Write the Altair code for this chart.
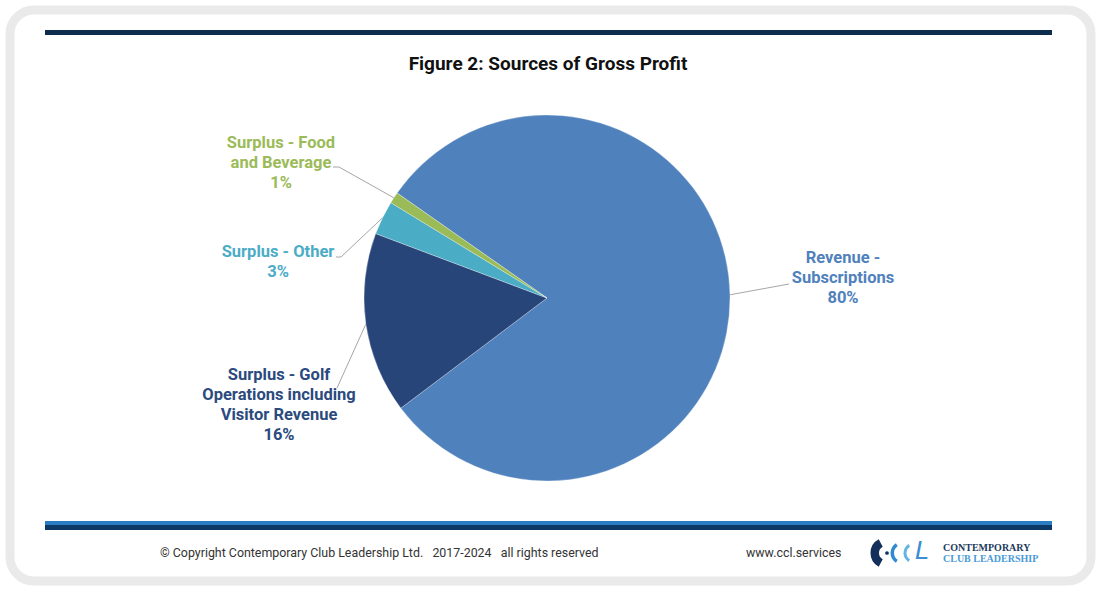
import math
import altair as alt
import pandas as pd

# ---------------- data ----------------
categories = [
    "Revenue - Subscriptions",
    "Surplus - Golf Operations including Visitor Revenue",
    "Surplus - Other",
    "Surplus - Food and Beverage",
]
values = [80, 16, 3, 1]
label_lines = [
    ["Revenue -", "Subscriptions"],
    ["Surplus - Golf", "Operations including", "Visitor Revenue"],
    ["Surplus - Other"],
    ["Surplus - Food", "and Beverage"],
]
title_text = "Figure 2: Sources of Gross Profit"
footer_left = "© Copyright Contemporary Club Leadership Ltd.\u00a0\u00a0\u00a02017-2024\u00a0\u00a0\u00a0all rights reserved"
footer_url = "www.ccl.services"

# ---------------- layout / style ----------------
W, H = 1100, 595
CX, CY, R = 547, 298, 183
START_DEG = 305.0
colors = ["#4F81BD", "#284579", "#4BACC6", "#9BBB59"]
label_colors = ["#4F81BD", "#2B4A7E", "#4BACC6", "#9BBB59"]
label_pos = [(843, 258), (279, 375), (278, 252), (281, 143)]  # centre x, first line y
leader_anchor = [
    [(789, 284)],
    [(337, 388)],
    [(336, 257), (341, 257)],
    [(333, 167), (339, 167)],
]
LINE_GAP = 20
FONT = "Roboto, Liberation Sans, sans-serif"

xs = alt.Scale(domain=[0, W], range=[0, W])
ys = alt.Scale(domain=[0, H], range=[0, H])
color_scale = alt.Scale(domain=categories, range=colors)
label_color_scale = alt.Scale(domain=[c + " " for c in categories], range=label_colors)


def X(f):
    return alt.X(f, type="quantitative", scale=xs, axis=None)


def Y(f):
    return alt.Y(f, type="quantitative", scale=ys, axis=None)


one = pd.DataFrame({"a": [0]})

# ---------------- pie ----------------
pie_df = pd.DataFrame({"category": categories, "value": values, "order": list(range(len(values)))})
start = math.radians(START_DEG)
pie = alt.Chart(pie_df).mark_arc(outerRadius=R, stroke="white", strokeWidth=0.3).encode(
    theta=alt.Theta("value:Q", stack=True, scale=alt.Scale(domain=[0, sum(values)], range=[start, start + 2 * math.pi])),
    color=alt.Color("category:N", scale=color_scale, legend=None),
    order=alt.Order("order:Q"),
    x=alt.value(CX),
    y=alt.value(CY),
)

# ---------------- labels ----------------
rows = []
total = sum(values)
for i, (cat, v) in enumerate(zip(categories, values)):
    lines = label_lines[i] + [f"{v}%"]
    cx, y0 = label_pos[i]
    for j, t in enumerate(lines):
        rows.append({"cat": cat + " ", "text": t, "x": cx, "y": y0 + j * LINE_GAP})
lab_df = pd.DataFrame(rows)
labels = alt.Chart(lab_df).mark_text(font=FONT, fontSize=16.5, fontWeight="bold", align="center", baseline="middle").encode(
    x=X("x"), y=Y("y"), text="text:N",
    color=alt.Color("cat:N", scale=label_color_scale, legend=None),
)

# ---------------- leader lines ----------------
lrows = []
cum = 0
for i, v in enumerate(values):
    mid = START_DEG + 360.0 * (cum + v / 2) / total
    cum += v
    a = math.radians(mid)
    px, py = CX + R * math.sin(a), CY - R * math.cos(a)
    pts = leader_anchor[i] + [(px, py)]
    for k, (x, y) in enumerate(pts):
        lrows.append({"id": i, "k": k, "x": x, "y": y})
lead_df = pd.DataFrame(lrows)
leaders = alt.Chart(lead_df).mark_line(color="#A6A6A6", strokeWidth=1).encode(
    x=X("x"), y=Y("y"), detail="id:N", order="k:Q"
)

# ---------------- frame / decorations ----------------
card = alt.Chart(one).mark_rect(
    fill="white", stroke="#EAEAEA", strokeWidth=9, cornerRadius=24
).encode(x=alt.value(10), x2=alt.value(1091), y=alt.value(10), y2=alt.value(581))

bars_df = pd.DataFrame({
    "x": [45, 45, 45], "x2": [1052, 1052, 1052],
    "y": [30, 521, 525], "y2": [35, 525, 530],
    "c": ["#0E2D4E", "#2A7DC2", "#0C3866"],
})
bars = alt.Chart(bars_df).mark_rect().encode(
    x=X("x"), x2="x2", y=Y("y"), y2="y2", color=alt.Color("c:N", scale=None)
)

title = alt.Chart(pd.DataFrame({"t": [title_text]})).mark_text(
    font=FONT, fontSize=19, fontWeight="bold", color="#111111", align="center", baseline="middle"
).encode(text="t:N", x=alt.value(548), y=alt.value(64))

footer_df = pd.DataFrame({"t": [footer_left, footer_url], "x": [160, 746], "y": [553, 553]})
footer = alt.Chart(footer_df).mark_text(
    font=FONT, fontSize=12.4, color="#333333", align="left", baseline="middle"
).encode(text="t:N", x=X("x"), y=Y("y"))

# logo
def logo_arc(cx, t0, t1, r0, r1, col):
    return alt.Chart(one).mark_arc(
        theta=math.radians(t0), theta2=math.radians(t1), innerRadius=r0, outerRadius=r1, color=col
    ).encode(x=alt.value(cx), y=alt.value(553))

arc1 = logo_arc(886, 208, 332, 7, 15.5, "#14305A")
arc2 = logo_arc(902, 212, 328, 8, 11.5, "#2F8AD0")
arc3 = logo_arc(914, 212, 328, 7.5, 10.5, "#63B4E4")
logo_dot = alt.Chart(one).mark_circle(size=14, color="#14305A", opacity=1).encode(
    x=alt.value(887), y=alt.value(553)
)
logo_L = alt.Chart(pd.DataFrame({"t": ["L"]})).mark_text(
    font="DejaVu Sans", fontSize=25, fontStyle="italic", color="#3B8ED3", align="left", baseline="middle"
).encode(text="t:N", x=alt.value(915), y=alt.value(551))
logo_txt_df = pd.DataFrame({"t": ["CONTEMPORARY", "CLUB LEADERSHIP"], "y": [548, 559], "c": ["#1B3A5C", "#4A9AD8"]})
logo_txt = alt.Chart(logo_txt_df).mark_text(
    font="Liberation Serif", fontSize=10, fontWeight="bold", align="left", baseline="middle"
).encode(text="t:N", x=alt.value(943), y=Y("y"), color=alt.Color("c:N", scale=None))

chart = alt.layer(
    card, bars, title, leaders, pie, labels, footer, arc1, arc2, arc3, logo_dot, logo_L, logo_txt
).resolve_scale(color="independent").properties(
    width=W, height=H, padding=0, autosize=alt.AutoSizeParams(type="none"), background="white"
).configure_view(stroke=None)

chart.save("out.html", embed_options={"renderer": "svg", "actions": False})
